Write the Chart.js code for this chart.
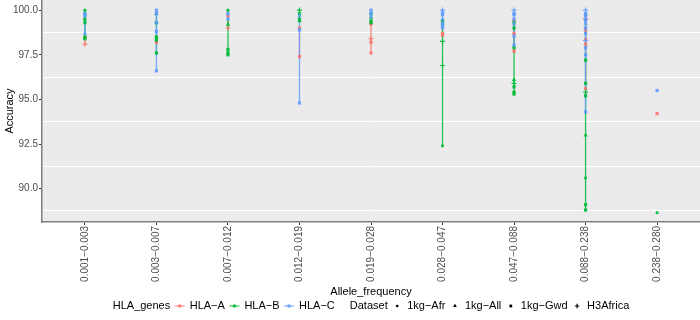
<!DOCTYPE html>
<html>
<head>
<meta charset="utf-8">
<script src="https://cdn.jsdelivr.net/npm/chart.js@4.4.1/dist/chart.umd.min.js"></script>
<style>
    html, body { margin: 0; padding: 0; background: #fff; }
    #wrap { width: 700px; height: 320px; }
</style>
</head>
<body>
<div id="wrap"><canvas id="acc"></canvas></div>
<script>
var categories = ['0.001−0.003', '0.003−0.007', '0.007−0.012', '0.012−0.019', '0.019−0.028',
    '0.028−0.047', '0.047−0.088', '0.088−0.238', '0.238−0.280'];
var genes = ['HLA−A', 'HLA−B', 'HLA−C'];
var datasetNames = ['1kg−Afr', '1kg−All', '1kg−Gwd', 'H3Africa'];
var yTicks = [90, 92.5, 95, 97.5, 100];
var yMinorTicks = [88.75, 91.25, 93.75, 96.25, 98.75];

// accuracy of each allele, one list per frequency bin
var hlaA = [[98.5, 98.1], [98.2], [99.7, 99.0], [99.0, 97.4], [99.3, 99.2, 98.4, 98.2, 97.6],
    [98.7, 98.6], [99.45, 98.7, 97.7], [99.5, 98.9, 98.35, 98.1, 95.6], [94.2]];
var hlaB = [[100.0, 99.8, 99.5, 99.3, 98.5, 98.4], [99.8, 99.3, 98.5, 98.4, 98.3, 97.6],
    [100.0, 99.2, 97.8, 97.6, 97.5], [100.0, 99.8, 99.5, 99.4], [99.8, 99.6, 99.4, 99.3],
    [99.4, 99.2, 98.25, 96.9, 92.4], [99.3, 99.0, 97.9, 96.1, 95.9, 95.7, 95.4, 95.3],
    [99.75, 97.2, 95.9, 95.4, 95.2, 93.0, 90.6, 89.1, 88.8], [88.65]];
var hlaC = [[99.8, 99.7, 98.7], [100.0, 99.8, 99.3, 98.8, 96.6], [99.8, 99.5], [99.7, 98.9, 94.8],
    [100.0, 99.8, 99.6], [100.0, 99.85, 99.75, 99.5, 99.25, 99.1, 99.0],
    [100.0, 99.8, 99.75, 99.5, 99.25, 98.55, 98.05],
    [100.0, 99.8, 99.7, 99.5, 99.4, 99.25, 99.0, 98.7, 98.3, 97.9, 97.5, 94.3], [95.5]];

// dataset of each value above: a = 1kg-Afr, t = 1kg-All, g = 1kg-Gwd, h = H3Africa
var hlaA_set = ['th', 'g', 'gh', 'gg', 'tahgg', 'gg', 'tgg', 'hgggg', 'g'];
var hlaB_set = ['atgggg', 'tgggag', 'atggg', 'hggt', 'gtgg', 'gghha', 'gggthggg', 'ggghgtagg', 'a'];
var hlaC_set = ['ggt', 'ggtgg', 'gg', 'tgg', 'ggt', 'hggtggg', 'hgggtgg', 'hggggtgghggg', 'g'];

var colours = ['#F8766D', '#00BA38', '#619CFF'];
var shapeOf = { a: 'circle', t: 'triangle', g: 'rect', h: 'cross' };
var radiusOf = { a: 1.6, t: 2.6, g: 2.3, h: 2.6 };

Chart.defaults.font.family = '"Liberation Sans", Arial, sans-serif';

function fade(hex, a) {
    var n = parseInt(hex.slice(1), 16);
    return 'rgba(' + (n >> 16) + ',' + ((n >> 8) & 255) + ',' + (n & 255) + ',' + a + ')';
}

function isMajor(v) {
    return yTicks.indexOf(v) >= 0;
}

function pointSet(values, sets, gene, order) {
    var pts = [], styles = [], radii = [], widths = [];
    values.forEach(function (list, i) {
        list.forEach(function (v, j) {
            var code = sets[i].charAt(j);
            pts.push({ x: i + 1, y: v });
            styles.push(shapeOf[code]);
            radii.push(radiusOf[code]);
            widths.push(code === 'h' ? 1.2 : 0);
        });
    });
    return {
        label: genes[gene],
        data: pts,
        order: order,
        clip: false,
        pointStyle: styles,
        pointRadius: radii,
        pointBorderWidth: widths,
        backgroundColor: fade(colours[gene], 0.9),
        borderColor: fade(colours[gene], 0.9)
    };
}

function rangeSet(values, gene, order) {
    var pts = [];
    values.forEach(function (list, i) {
        if (list.length < 2) return;
        pts.push({ x: i + 1, y: Math.min.apply(null, list) });
        pts.push({ x: i + 1, y: Math.max.apply(null, list) });
        pts.push({ x: i + 1, y: null });
    });
    return {
        label: genes[gene] + ' range',
        data: pts,
        order: order,
        clip: false,
        showLine: true,
        spanGaps: false,
        pointRadius: 0,
        borderWidth: 1.3,
        borderColor: fade(colours[gene], 0.85)
    };
}

var panel = {
    id: 'panel',
    beforeDraw: function (chart) {
        var a = chart.chartArea, ctx = chart.ctx;
        ctx.save();
        ctx.fillStyle = '#EBEBEB';
        ctx.fillRect(a.left, a.top, a.right - a.left, a.bottom - a.top);
        ctx.restore();
    }
};

// ggplot-like legend along the bottom: two titled groups on one row
var ggLegend = {
    id: 'ggLegend',
    afterDraw: function (chart) {
        var ctx = chart.ctx, a = chart.chartArea, y = 306;
        ctx.save();
        ctx.font = '11px "Liberation Sans", Arial, sans-serif';
        ctx.textBaseline = 'middle';
        var groups = [
            { title: 'HLA_genes', items: genes.map(function (g, i) { return { text: g, gene: i }; }) },
            { title: 'Dataset', items: datasetNames.map(function (d, i) { return { text: d, shape: 'atgh'.charAt(i) }; }) }
        ];
        var total = 0;
        groups.forEach(function (g, gi) {
            total += ctx.measureText(g.title).width;
            g.items.forEach(function (it) { total += 19.5 + ctx.measureText(it.text).width; });
            if (gi > 0) total += 15;
        });
        var x = (a.left + a.right) / 2 - total / 2;
        groups.forEach(function (g, gi) {
            if (gi > 0) x += 15;
            ctx.fillStyle = '#000';
            ctx.fillText(g.title, x, y);
            x += ctx.measureText(g.title).width;
            g.items.forEach(function (it) {
                var kx = x + 9.5;
                if (it.gene !== undefined) {
                    var c = colours[it.gene];
                    ctx.strokeStyle = fade(c, 0.8);
                    ctx.lineWidth = 1.2;
                    ctx.beginPath(); ctx.moveTo(kx - 5, y); ctx.lineTo(kx + 5, y); ctx.stroke();
                    ctx.fillStyle = fade(c, 0.9);
                    ctx.fillRect(kx - 1.5, y - 1.5, 3, 3);
                } else {
                    ctx.fillStyle = '#000';
                    ctx.strokeStyle = '#000';
                    Chart.helpers.drawPoint(ctx, {
                        pointStyle: shapeOf[it.shape], radius: radiusOf[it.shape] * 0.85,
                        borderWidth: it.shape === 'h' ? 1 : 0, rotation: 0
                    }, kx, y);
                }
                ctx.fillStyle = '#000';
                ctx.fillText(it.text, kx + 10, y);
                x = kx + 10 + ctx.measureText(it.text).width;
            });
        });
        ctx.restore();
    }
};

var ctx = document.getElementById('acc').getContext('2d');
var accChart = new Chart(ctx, {
    type: 'scatter',
    data: {
        datasets: [
            pointSet(hlaA, hlaA_set, 0, 2),
            pointSet(hlaB, hlaB_set, 1, 1),
            pointSet(hlaC, hlaC_set, 2, 0),
            rangeSet(hlaA, 0, 5),
            rangeSet(hlaB, 1, 4),
            rangeSet(hlaC, 2, 3)
        ]
    },
    options: {
        responsive: true,
        maintainAspectRatio: false,
        animation: false,
        events: [],
        layout: { autoPadding: false, padding: { left: 0, right: 0, top: 0, bottom: 20 } },
        scales: {
            x: {
                min: 0.4,
                max: 9.6,
                afterBuildTicks: function (s) {
                    s.ticks = categories.map(function (c, i) { return { value: i + 1 }; });
                },
                afterFit: function (s) { s.height = 78; s.paddingLeft = 0; s.paddingRight = 0; },
                grid: { drawOnChartArea: false, tickLength: 3, tickColor: '#333333' },
                border: { color: '#7F7F7F', width: 1.5 },
                ticks: {
                    autoSkip: false, minRotation: 90, maxRotation: 90, padding: 1,
                    color: '#4D4D4D', font: { size: 10 },
                    callback: function (v) { return categories[Math.round(v) - 1]; }
                },
                title: { display: true, text: 'Allele_frequency', color: '#000', font: { size: 11 }, padding: { top: 0, bottom: 1 } }
            },
            y: {
                min: 88.13,
                max: 100.57,
                afterBuildTicks: function (s) {
                    s.ticks = yMinorTicks.concat(yTicks).sort(function (p, q) { return p - q; })
                        .map(function (v) { return { value: v }; });
                },
                afterFit: function (s) { s.width = 42; s.paddingTop = 0; s.paddingBottom = 0; },
                grid: {
                    lineWidth: 1,
                    tickLength: 3,
                    color: function (c) { return c.tick && !isMajor(c.tick.value) ? '#FFFFFF' : 'rgba(0,0,0,0)'; },
                    tickColor: function (c) { return c.tick && isMajor(c.tick.value) ? '#333333' : 'rgba(0,0,0,0)'; }
                },
                border: { color: '#7F7F7F', width: 1.5 },
                ticks: {
                    autoSkip: false, padding: 1, color: '#4D4D4D', font: { size: 10 },
                    callback: function (v) { return isMajor(v) ? v.toFixed(1) : ''; }
                },
                title: { display: true, text: 'Accuracy', color: '#000', font: { size: 11 }, padding: { top: 3, bottom: 0 } }
            }
        },
        plugins: {
            legend: { display: false },
            tooltip: { enabled: false }
        }
    },
    plugins: [panel, ggLegend]
});
</script>
</body>
</html>
